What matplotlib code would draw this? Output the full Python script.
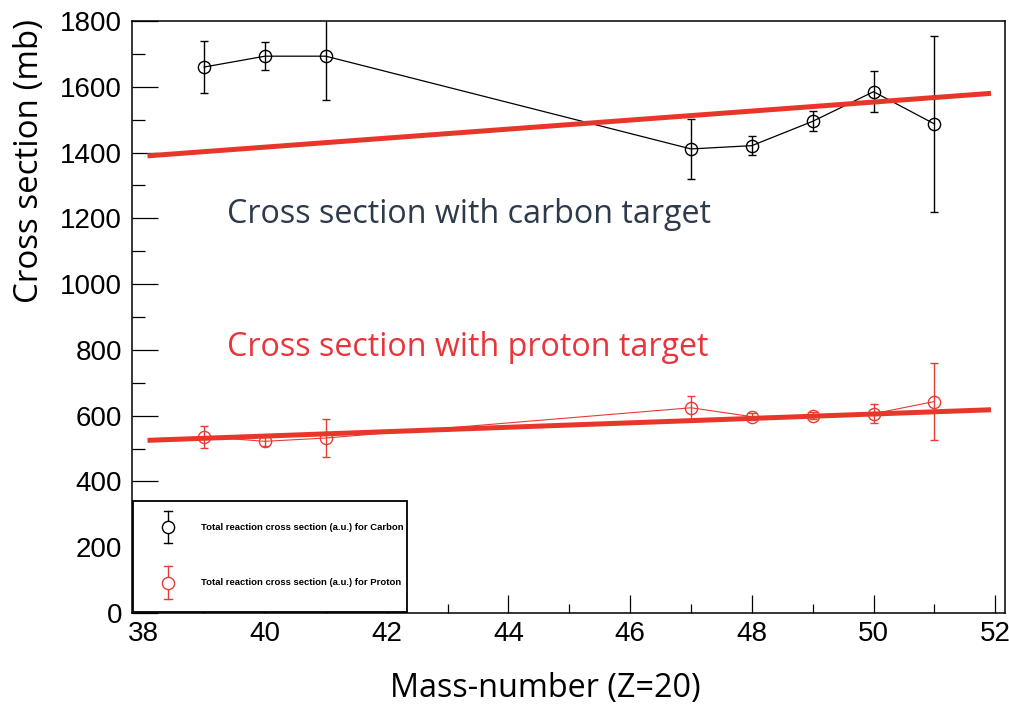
import matplotlib
matplotlib.use("Agg")
from matplotlib import pyplot as plt
from matplotlib.patches import Rectangle
from matplotlib.ticker import MultipleLocator

# mass numbers (Z=20)
mass = [39, 40, 41, 47, 48, 49, 50, 51]

# total reaction cross section, carbon target (mb)
carbon = [1660, 1693, 1693, 1411, 1421, 1495, 1585, 1487]
carbon_err = [80, 43, 132, 90, 28, 30, 63, 268]

# total reaction cross section, proton target (mb)
proton = [536, 522, 532, 624, 597, 600, 606, 643]
proton_err = [34, 14, 57, 37, 10, 10, 29, 118]

# straight line fits
fit_x = [38.07, 51.93]
carbon_fit = [1390, 1580]
proton_fit = [525, 618]

FIT_RED = '#e8362b'
DATA_RED = '#e53c34'
W, H = 1009, 705

fig = plt.figure(figsize=(W / 100, H / 100), dpi=100)
ax = fig.add_axes([131.7 / W, (H - 613) / H, (1005 - 131.7) / W, (613 - 21) / H])

ax.errorbar(mass, carbon, yerr=carbon_err, fmt='o-', color='black', mfc='none',
            mec='black', ms=8.8, mew=1.0, lw=0.9, elinewidth=1.0, capsize=2.8,
            capthick=1.0, zorder=3)
ax.errorbar(mass, proton, yerr=proton_err, fmt='o-', color=DATA_RED, mfc='none',
            mec=DATA_RED, ms=8.8, mew=1.0, lw=0.8, elinewidth=1.0, capsize=2.8,
            capthick=1.0, zorder=3)

ax.plot(fit_x, carbon_fit, color=FIT_RED, lw=3.6, solid_capstyle='butt', zorder=4)
ax.plot(fit_x, proton_fit, color=FIT_RED, lw=3.6, solid_capstyle='butt', zorder=4)

ax.set_xlim(37.81, 52.16)
ax.set_ylim(0, 1800)

# ROOT-like ticks
ax.xaxis.set_major_locator(MultipleLocator(2))
ax.xaxis.set_minor_locator(MultipleLocator(1))
ax.yaxis.set_major_locator(MultipleLocator(200))
ax.yaxis.set_minor_locator(MultipleLocator(100))
ax.tick_params(axis='x', which='major', direction='in', length=13, width=0.9, pad=6,
               labelsize=20, top=False)
ax.tick_params(axis='x', which='minor', direction='in', length=6.5, width=0.9, top=False)
ax.tick_params(axis='y', which='major', direction='in', length=18.5, width=0.9, pad=7,
               labelsize=20, right=False)
ax.tick_params(axis='y', which='minor', direction='in', length=9.4, width=0.9, right=False)
for lab in ax.get_xticklabels() + ax.get_yticklabels():
    lab.set_family('Liberation Sans')
for sp in ax.spines.values():
    sp.set_linewidth(1.1)

# legend box (ROOT style, no line through the marker)
ax.add_patch(Rectangle((0.0013, 0.0017), (406.7 - 132.7) / (1005 - 131.7),
                       (610.7 - 499.3) / 592, transform=ax.transAxes,
                       fill=True, facecolor='white', edgecolor='black', lw=1.3, zorder=5))
leg_entries = [('black', 'Total reaction cross section (a.u.) for Carbon', 527.3, 16),
               (DATA_RED, 'Total reaction cross section (a.u.) for Proton', 582.7, 16.7)]
for col, txt, ypx, half in leg_entries:
    xa = (168.3 - 131.7) / (1005 - 131.7)
    ya = (613 - ypx) / 592
    hb = half / 592
    ax.plot([xa, xa], [ya - hb, ya + hb], color=col, lw=1.0, transform=ax.transAxes,
            zorder=6, clip_on=False)
    cw = 3.9 / (1005 - 131.7)
    for yy in (ya - hb, ya + hb):
        ax.plot([xa - cw, xa + cw], [yy, yy], color=col, lw=1.0,
                transform=ax.transAxes, zorder=6, clip_on=False)
    ax.plot([xa], [ya], 'o', mfc='white', mec=col, ms=8.8, mew=1.0,
            transform=ax.transAxes, zorder=7, clip_on=False)
    ax.text((200.7 - 131.7) / (1005 - 131.7), ya, txt, transform=ax.transAxes,
            fontsize=6.8, fontweight='bold', family='Liberation Sans', va='center',
            ha='left', zorder=7)

# annotations
fig.text(227 / W, 1 - 223.3 / H, 'Cross section with carbon target', fontsize=23.2,
         family='Open Sans', color='#2d3a4a', va='baseline', ha='left')
fig.text(227 / W, 1 - 356 / H, 'Cross section with proton target', fontsize=23.2,
         family='Open Sans', color='#e8343a', va='baseline', ha='left')

# axis titles
fig.text(30 / W, 1 - 19 / H, 'Cross section (mb)', rotation=90, fontsize=23.8,
         family='Open Sans', va='top', ha='center')
fig.text(545 / W, 1 - 688 / H, 'Mass-number (Z=20)', fontsize=23.3,
         family='Open Sans', va='center', ha='center')

fig.savefig('out.png', dpi=100)
